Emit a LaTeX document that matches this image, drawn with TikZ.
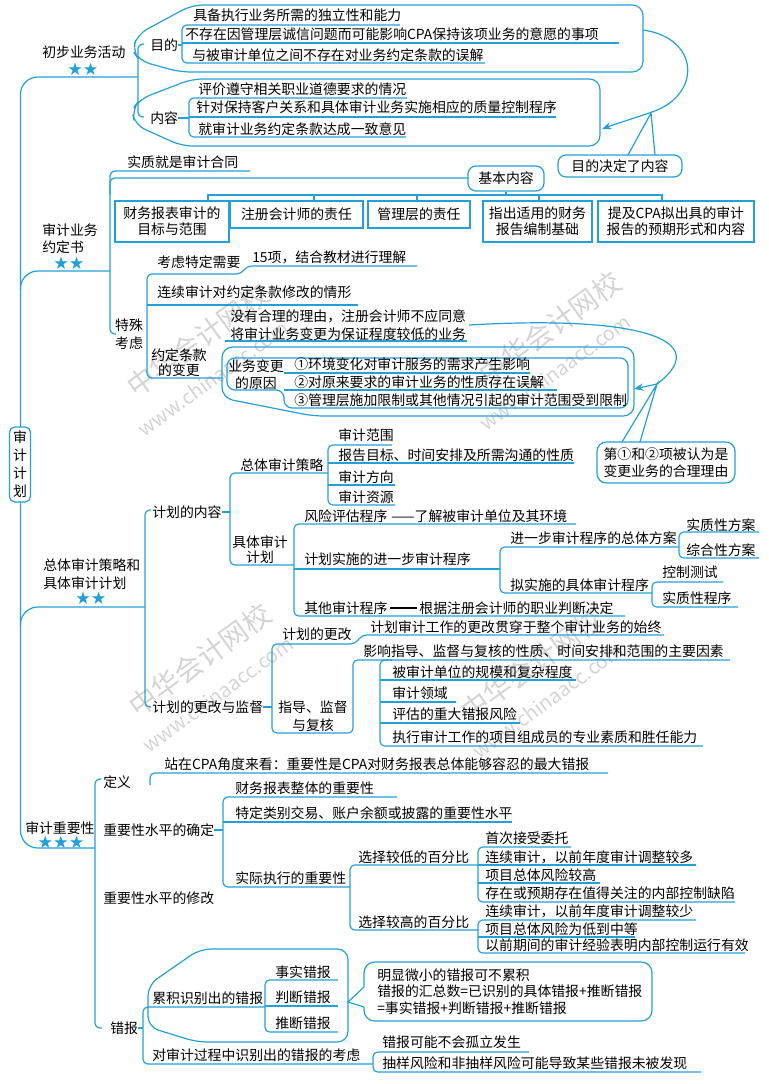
\documentclass[tikz,border=0pt]{standalone}
\usepackage{fontspec}
\setmainfont{Noto Sans CJK SC}
\newfontfamily\symf{DejaVu Sans}
\usetikzlibrary{arrows.meta}
\definecolor{cb}{RGB}{35,160,215}
\definecolor{wm}{RGB}{212,212,212}
\begin{document}
\begin{tikzpicture}[x=0.75pt,y=-0.75pt,
 ln/.style={draw=cb,line width=0.9pt,rounded corners=3.5pt},
 trunk/.style={draw=cb,line width=0.9pt,rounded corners=13pt},
 bub/.style={draw=cb,line width=0.9pt,rounded corners=8pt},
 t/.style={anchor=west,inner sep=0pt,font=\fontsize{10.4}{13}\selectfont},
 tc/.style={anchor=center,inner sep=0pt,align=center,font=\fontsize{10.4}{13}\selectfont},
 sq/.style={draw=cb,line width=0.9pt,inner sep=0pt,align=center,font=\fontsize{10.4}{12}\selectfont},
 stars/.style={text=cb,inner sep=0pt,font=\symf\fontsize{13}{14}\selectfont},
 wmk/.style={text=wm,inner sep=0pt,rotate=36,font=\fontsize{21}{22}\selectfont},
 wmu/.style={text=wm,inner sep=0pt,rotate=36,font=\fontsize{15}{16}\selectfont},
 arr/.style={draw=cb,line width=0.9pt,-{Stealth[length=7pt,width=5.5pt]}}]
\useasboundingbox (0,0) rectangle (768,1084);
% watermarks
\node[wmk] (w1a) at (198,340) {中华会计网校};
\node[wmu] (w1b) at (213,378) {www.chinaacc.com};
\node[wmk] (w2a) at (550,328) {中华会计网校};
\node[wmu] (w2b) at (555,372) {www.chinaacc.com};
\node[wmk] (w3a) at (200,660) {中华会计网校};
\node[wmu] (w3b) at (218,694) {www.chinaacc.com};
\node[wmk] (w4a) at (532,665) {中华会计网校};
\node[wmu] (w4b) at (548,700) {www.chinaacc.com};

% trunk
\draw[trunk] (138,77) -- (20.5,77) -- (20.5,848) -- (95,848);
\draw[trunk] (20.5,290) -- (20.5,271) -- (110,271);
\draw[trunk] (20.5,625) -- (20.5,607) -- (145,607);
\node[tc,draw=cb,fill=white,line width=0.9pt,rounded corners=4pt,minimum width=15.75pt,minimum height=56.25pt,font=\fontsize{10.4}{13.5}\selectfont] (sjjh) at (20,464.5) {审\\计\\计\\划};

% ===== 初步业务活动
\node[t] (cbyw) at (42,52) {初步业务活动};
\node[stars] (s1) at (83,69) {★★};
\draw[ln] (144,44) -- (138,44) -- (138,117) -- (144,117);
\node[t] (mudi) at (150,45) {目的};
\draw[ln] (mudi.east) -- (182,45);
\draw[ln] (400,25) -- (182,25) -- (182,63) -- (485,63);
\draw[ln] (182,43) -- (619,43);
\node[t] (md1) at (193,15) {具备执行业务所需的独立性和能力};
\node[t] (md2) at (185,34) {不存在因管理层诚信问题而可能影响CPA保持该项业务的意愿的事项};
\node[t] (md3) at (192,55) {与被审计单位之间不存在对业务约定条款的误解};
\draw[bub] (192,5) -- (643,5) -- (643,72) -- (180,72) -- (140,61) -- (132,50) -- (138,34) -- cycle;

\node[t] (nr) at (150,118) {内容};
\draw[ln] (nr.east) -- (189,118);
\draw[ln] (407,98) -- (189,98) -- (189,137) -- (406,137);
\draw[ln] (189,117) -- (556,117);
\node[t] (nr1) at (198,89) {评价遵守相关职业道德要求的情况};
\node[t] (nr2) at (196,107) {针对保持客户关系和具体审计业务实施相应的质量控制程序};
\node[t] (nr3) at (198,129) {就审计业务约定条款达成一致意见};
\draw[bub] (192,79) -- (600,79) -- (600,146) -- (182,146) -- (135,125) -- (132,110) -- (140,99) -- cycle;

\node[tc,draw=cb,line width=0.9pt,rounded corners=6pt,minimum width=93pt,minimum height=16.5pt] (mdjd) at (620,166) {目的决定了内容};
\draw[arr] (643,30) .. controls (700,38) and (702,95) .. (652,112) .. controls (635,118) and (618,123) .. (602,129);
\draw[draw=cb,line width=0.9pt] (628,155) -- (651,113) -- (655,155);

% ===== 审计业务约定书
\node[t] (sjyd1) at (42,230) {审计业务};
\node[t] (sjyd2) at (42,247) {约定书};
\node[stars] (s2) at (69,263) {★★};
\draw[ln] (250,171) -- (110,171) -- (110,334) -- (116,334);
\draw[ln] (110,195) -- (110,178) -- (468,178);
\node[t] (szjs) at (127,162) {实质就是审计合同};
\node[tc,draw=cb,line width=0.9pt,rounded corners=6pt,minimum width=57pt,minimum height=18.75pt] (jbnr) at (506,178.5) {基本内容};
\draw[ln] (jbnr.south) -- (506,195);
\draw[ln,rounded corners=0pt] (208,201) -- (208,195) -- (662,195) -- (662,201);
\draw[ln] (314,195) -- (314,201);
\draw[ln] (417,195) -- (417,201);
\draw[ln] (539,195) -- (539,201);
\node[sq,minimum width=85.5pt,minimum height=30.75pt] (b1) at (172,221.5) {财务报表审计的\\目标与范围};
\node[sq,minimum width=99.75pt,minimum height=20.25pt] (b2) at (296.5,214.5) {注册会计师的责任};
\node[sq,minimum width=76.5pt,minimum height=20.25pt] (b3) at (419,214.5) {管理层的责任};
\node[sq,minimum width=81.75pt,minimum height=30.75pt] (b4) at (537.5,221.5) {指出适用的财务\\报告编制基础};
\node[sq,minimum width=117pt,minimum height=30.75pt] (b5) at (676,221.5) {提及CPA拟出具的审计\\报告的预期形式和内容};

\node[tc,font=\fontsize{10.4}{13.5}\selectfont] (tsks) at (129,334) {特殊\\考虑};
\draw[ln] (417,266) -- (247,266) -- (241,274) -- (147,274) -- (147,378) -- (222,378);
\node[t] (kltd) at (157,262) {考虑特定需要};
\node[t] (x15) at (252,257) {15项，结合教材进行理解};
\draw[ln] (147,305) -- (358,305);
\node[t] (lxsj) at (157,292) {连续审计对约定条款修改的情形};
\node[tc,font=\fontsize{10.4}{11.25}\selectfont] (ydtk) at (179,362.5) {约定条款\\的变更};
\node[t,align=left,font=\fontsize{10.4}{13.5}\selectfont] (myhl) at (230,325.5) {没有合理的理由，注册会计师不应同意\\将审计业务变更为保证程度较低的业务};
\draw[ln] (225,341) -- (467,341);
\draw[bub] (222,347) -- (634,347) -- (634,416) -- (313,416) -- (222,398) -- cycle;
\draw[ln,rounded corners=6pt] (227,358) -- (628,358) -- (628,408) -- (284,408) -- (284,390) -- (227,390) -- cycle;
\draw[ln] (284,373) -- (530,373);
\draw[ln] (284,390) -- (557,390);
\node[tc,font=\fontsize{10.4}{12.75}\selectfont] (ywbg) at (256,374.5) {业务变更\\的原因};
\node[t] (yy1) at (294,364) {①环境变化对审计服务的需求产生影响};
\node[t] (yy2) at (294,382) {②对原来要求的审计业务的性质存在误解};
\node[t] (yy3) at (294,400.5) {③管理层施加限制或其他情况引起的审计范围受到限制};
\node[tc,draw=cb,line width=0.9pt,rounded corners=7pt,minimum width=103.5pt,minimum height=30.75pt,font=\fontsize{10.4}{12.75}\selectfont] (dyhe) at (666,462.5) {第①和②项被认为是\\变更业务的合理理由};
\draw[arr] (469,325) .. controls (640,315) and (715,340) .. (657,384) -- (634,389);
\draw[draw=cb,line width=0.9pt] (622,442) -- (657,384) -- (640,442);

% ===== 总体审计策略和具体审计计划
\node[t] (ztcl1) at (43,565) {总体审计策略和};
\node[t] (ztcl2) at (43,583) {具体审计计划};
\node[stars] (s3) at (91,598) {★★};
\draw[ln] (151,510) -- (145,510) -- (145,707) -- (151,707);
\node[t] (jhnr) at (152,512) {计划的内容};
\draw[ln] (jhnr.east) -- (230,512);
\draw[ln] (328,473) -- (230,473) -- (230,565) -- (294,565);
\node[t] (ztcl) at (240,465) {总体审计策略};
\node[tc,font=\fontsize{10.4}{11.25}\selectfont] (jtsj) at (260,549.5) {具体审计\\计划};
\draw[ln] (392,445) -- (328,445) -- (328,505) -- (395,505);
\draw[ln] (328,463) -- (574,463);
\draw[ln] (328,485) -- (395,485);
\node[t] (zt1) at (338,435) {审计范围};
\node[t] (zt2) at (338,455) {报告目标、时间安排及所需沟通的性质};
\node[t] (zt3) at (338,477) {审计方向};
\node[t] (zt4) at (338,497) {审计资源};
\draw[ln] (576,524) -- (294,524) -- (294,616) -- (625,616);
\draw[ln] (294,569) -- (500,569);
\node[t] (jt1) at (304,516) {风险评估程序\hspace{3pt}——了解被审计单位及其环境};
\node[t] (jt2) at (304,559) {计划实施的进一步审计程序};
\node[t] (jt3) at (304,608) {其他审计程序\hspace{2pt}\rule[3.3pt]{20pt}{1.5pt}\hspace{2pt}根据注册会计师的职业判断决定};
\draw[ln] (679,547) -- (500,547) -- (500,593) -- (652,593);
\node[t] (jb1) at (510,538) {进一步审计程序的总体方案};
\node[t] (jb2) at (510,585) {拟实施的具体审计程序};
\draw[ln] (759,532) -- (679,532) -- (679,558) -- (759,558);
\node[t] (fa1) at (686,525) {实质性方案};
\node[t] (fa2) at (686,550) {综合性方案};
\draw[ln] (723,582) -- (652,582) -- (652,607) -- (738,607);
\node[t] (cx1) at (662,572) {控制测试};
\node[t] (cx2) at (662,598) {实质性程序};

\node[t] (jhgg) at (152,707) {计划的更改与监督};
\draw[ln] (jhgg.east) -- (272,707);
\draw[ln] (664,635) -- (362,635) -- (355,644) -- (272,644) -- (272,733) -- (353,733) -- (353,660) -- (730,660);
\node[t] (jhgg2) at (282,634) {计划的更改};
\node[t] (jhsj) at (370,627) {计划审计工作的更改贯穿于整个审计业务的始终};
\node[tc,font=\fontsize{10.4}{13.5}\selectfont] (zdjd) at (313,716) {指导、监督\\与复核};
\node[t] (yxzd) at (363,651) {影响指导、监督与复核的性质、时间安排和范围的主要因素};
\draw[ln] (392,660) -- (380,660) -- (380,746) -- (703,746);
\draw[ln] (380,680) -- (576,680);
\draw[ln] (380,702) -- (456,702);
\draw[ln] (380,723) -- (520,723);
\node[t] (ys1) at (392,672) {被审计单位的规模和复杂程度};
\node[t] (ys2) at (392,693) {审计领域};
\node[t] (ys3) at (392,714) {评估的重大错报风险};
\node[t] (ys4) at (392,737) {执行审计工作的项目组成员的专业素质和胜任能力};

% ===== 审计重要性
\node[t] (sjzy) at (25,828) {审计重要性};
\node[stars] (s4) at (61,842) {★★★};
\draw[ln] (101,779) -- (95,779) -- (95,1028) -- (102,1028);
\node[t] (dy) at (103,782) {定义};
\draw[ln] (150,785) -- (150,773) -- (608,773);
\node[t] (dyt) at (164,764) {站在CPA角度来看：重要性是CPA对财务报表总体能够容忍的最大错报};
\node[t] (zyqd) at (103,830) {重要性水平的确定};
\draw[ln] (zyqd.east) -- (223,830);
\draw[ln] (397,797) -- (223,797) -- (223,887) -- (350,887);
\draw[ln] (223,822) -- (512,822);
\node[t] (qd1) at (235,788) {财务报表整体的重要性};
\node[t] (qd2) at (235,813) {特定类别交易、账户余额或披露的重要性水平};
\node[t] (qd3) at (235,878) {实际执行的重要性};
\draw[ln] (478,865) -- (350,865) -- (350,930) -- (478,930);
\node[t] (xzjd) at (358,857) {选择较低的百分比};
\node[t] (xzjg) at (358,922) {选择较高的百分比};
\draw[ln] (571,847) -- (478,847) -- (478,902) -- (735,902);
\draw[ln] (478,865) -- (696,865);
\draw[ln] (478,883) -- (600,883);
\node[t] (d1) at (485,838) {首次接受委托};
\node[t] (d2) at (485,857) {连续审计，以前年度审计调整较多};
\node[t] (d3) at (485,875) {项目总体风险较高};
\node[t] (d4) at (485,893) {存在或预期存在值得关注的内部控制缺陷};
\draw[ln] (696,920) -- (478,920) -- (478,953) -- (745,953);
\draw[ln] (478,937) -- (635,937);
\node[t] (g1) at (485,911) {连续审计，以前年度审计调整较少};
\node[t] (g2) at (485,929) {项目总体风险为低到中等};
\node[t] (g3) at (485,945) {以前期间的审计经验表明内部控制运行有效};
\node[t] (zyxg) at (103,898) {重要性水平的修改};

\node[t] (cbao) at (110,1028) {错报};
\draw[ln] (cbao.east) -- (143,1028);
\draw[ln] (265,1007) -- (143,1007) -- (143,1064) -- (373,1064);
\node[t] (ljsb) at (152,998) {累积识别出的错报};
\draw[ln] (338,980) -- (265,980) -- (265,1032) -- (338,1032);
\draw[ln] (265,1006) -- (338,1006);
\node[t] (cb1) at (275,972) {事实错报};
\node[t] (cb2) at (275,997) {判断错报};
\node[t] (cb3) at (275,1023) {推断错报};
\draw[bub] (200,949) -- (348,949) -- (348,1042) -- (197,1042) -- (148,1027) -- (148,985) -- cycle;
\draw[draw=cb,line width=0.9pt,rounded corners=8pt] (364,987) -- (364,962) -- (652,962) -- (652,1021) -- (364,1021) -- (364,1007);
\draw[draw=cb,line width=0.9pt] (364,987) -- (348,1002) -- (364,1007);
\node[t,align=left,font=\fontsize{10.4}{12.4}\selectfont] (mxwx) at (377,991.5) {明显微小的错报可不累积\\错报的汇总数=已识别的具体错报+推断错报\\=事实错报+判断错报+推断错报};
\node[t] (dsjg) at (152,1055) {对审计过程中识别出的错报的考虑};
\draw[ln] (529,1052) -- (373,1052) -- (373,1072) -- (701,1072);
\node[t] (kn1) at (382,1042) {错报可能不会孤立发生};
\node[t] (kn2) at (382,1063) {抽样风险和非抽样风险可能导致某些错报未被发现};
\end{tikzpicture}
\end{document}
